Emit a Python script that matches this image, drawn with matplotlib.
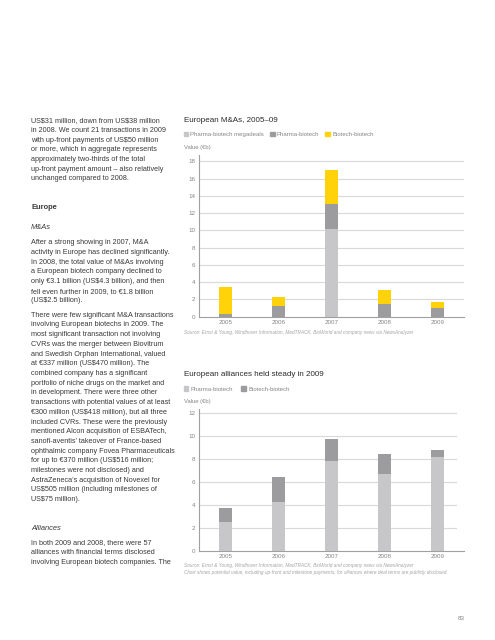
import matplotlib.pyplot as plt
from matplotlib.patches import Patch

plt.rcParams['font.family'] = ['Liberation Sans', 'DejaVu Sans']

# ---------------- data ----------------
years = ['2005', '2006', '2007', '2008', '2009']

# European M&As, 2005-09 (value, EUR bn)
ma_megadeals = [0, 0, 10.2, 0, 0]
ma_pharma = [0.3, 1.25, 2.8, 1.47, 1.05]
ma_biotech = [3.15, 1.08, 4.0, 1.6, 0.65]
ma_ticks = [0, 2, 4, 6, 8, 10, 12, 14, 16, 18]

# European alliances (value, EUR bn)
al_pharma = [2.52, 4.25, 7.8, 6.68, 8.15]
al_biotech = [1.21, 2.17, 1.91, 1.73, 0.61]
al_ticks = [0, 2, 4, 6, 8, 10, 12]

para1 = ["US$31 million, down from US$38 million",
         "in 2008. We count 21 transactions in 2009",
         "with up-front payments of US$50 million",
         "or more, which in aggregate represents",
         "approximately two-thirds of the total",
         "up-front payment amount \u2013 also relatively",
         "unchanged compared to 2008."]
para2 = ["After a strong showing in 2007, M&A",
         "activity in Europe has declined significantly.",
         "In 2008, the total value of M&As involving",
         "a European biotech company declined to",
         "only \u20ac3.1 billion (US$4.3 billion), and then",
         "fell even further in 2009, to \u20ac1.8 billion",
         "(US$2.5 billion)."]
para3 = ["There were few significant M&A transactions",
         "involving European biotechs in 2009. The",
         "most significant transaction not involving",
         "CVRs was the merger between Biovitrum",
         "and Swedish Orphan International, valued",
         "at \u20ac337 million (US$470 million). The",
         "combined company has a significant",
         "portfolio of niche drugs on the market and",
         "in development. There were three other",
         "transactions with potential values of at least",
         "\u20ac300 million (US$418 million), but all three",
         "included CVRs. These were the previously",
         "mentioned Alcon acquisition of ESBATech,",
         "sanofi-aventis\u2019 takeover of France-based",
         "ophthalmic company Fovea Pharmaceuticals",
         "for up to \u20ac370 million (US$516 million;",
         "milestones were not disclosed) and",
         "AstraZeneca\u2019s acquisition of Novexel for",
         "US$505 million (including milestones of",
         "US$75 million)."]
para4 = ["In both 2009 and 2008, there were 57",
         "alliances with financial terms disclosed",
         "involving European biotech companies. The"]

# ---------------- styles ----------------
LIGHT = '#c7c7c9'
MID = '#9c9b9d'
YELLOW = '#ffd20a'
TXT = '#3a3a3a'
GREY = '#858585'
SRC = '#a5a5a5'
W, H = 495, 640


def fx(x):
    return x / W


def fy(y):
    return 1 - y / H


fig = plt.figure(figsize=(4.95, 6.4), dpi=100)

# ---------------- left text column ----------------
pitch = 9.7


def put_para(lines, y0):
    for i, line in enumerate(lines):
        fig.text(fx(31), fy(y0 + i * pitch), line, fontsize=5.2, color=TXT,
                 va='center', ha='left', parse_math=False)


put_para(para1, 120.7)
fig.text(fx(31), fy(207.3), "Europe", fontsize=5.4, color=TXT, weight='bold', va='center')
fig.text(fx(31), fy(227.3), "M&As", fontsize=5.4, color=TXT, style='italic', va='center')
put_para(para2, 242.7)
put_para(para3, 315.3)
fig.text(fx(31), fy(528), "Alliances", fontsize=5.4, color=TXT, style='italic', va='center')
put_para(para4, 543)

fig.text(fx(461.7), fy(618.3), "83", fontsize=4.5, color=GREY, ha='center', va='center')


def style_axes(ax, ticks, xmax_frac):
    ax.set_xlim(-0.5, 4.5)
    ax.set_yticks(ticks)
    ax.set_xticks(range(len(years)))
    ax.set_xticklabels(years)
    ax.tick_params(length=0, labelsize=4.5, labelcolor=GREY, pad=2.5)
    for s in ['top', 'right']:
        ax.spines[s].set_visible(False)
    for s in ['left', 'bottom']:
        ax.spines[s].set_color('#a0a0a0')
        ax.spines[s].set_linewidth(0.8)
    for t in ticks[1:]:
        ax.axhline(t, xmax=xmax_frac, color='#d9d9d9', lw=0.8, zorder=0)
    ax.set_axisbelow(True)


# ---------------- chart 1: M&As ----------------
ax1 = fig.add_axes([fx(199), fy(316.7), fx(464 - 199), (316.7 - 155.3) / H])
x = range(len(years))
bw = 0.245
ax1.bar(x, ma_megadeals, bw, color=LIGHT, zorder=2)
bottom = [a + b for a, b in zip(ma_megadeals, ma_pharma)]
ax1.bar(x, ma_pharma, bw, bottom=ma_megadeals, color=MID, zorder=2)
ax1.bar(x, ma_biotech, bw, bottom=bottom, color=YELLOW, zorder=2)
ax1.set_ylim(0, 18.7)
style_axes(ax1, ma_ticks, 1.0)

fig.text(fx(184), fy(120.7), "European M&As, 2005\u201309", fontsize=5.8, color='#2a2a2a', va='center')
fig.text(fx(184), fy(147.7), "Value (\u20acb)", fontsize=4.2, color=GREY, va='center')
h1 = [Patch(color=LIGHT), Patch(color=MID), Patch(color=YELLOW)]
fig.legend(h1, ["Pharma-biotech megadeals", "Pharma-biotech", "Biotech-biotech"],
           loc='center left', bbox_to_anchor=(fx(183.5), fy(134.7)), ncol=3, frameon=False,
           fontsize=4.3, labelcolor=GREY, handlelength=0.75, handleheight=0.75,
           handletextpad=0.4, columnspacing=1.0, borderpad=0, borderaxespad=0)
fig.text(fx(184), fy(332.3),
         "Source: Ernst & Young, Windhover Information, MedTRACK, BioWorld and company news via NewsAnalyzer",
         fontsize=3.4, color=SRC, style='italic', va='center')

# ---------------- chart 2: alliances ----------------
ax2 = fig.add_axes([fx(199), fy(551), fx(464 - 199), (551 - 409.3) / H])
ax2.bar(x, al_pharma, bw, color=LIGHT, zorder=2)
ax2.bar(x, al_biotech, bw, bottom=al_pharma, color=MID, zorder=2)
ax2.set_ylim(0, 12.3)
style_axes(ax2, al_ticks, 0.97)

fig.text(fx(184), fy(375), "European alliances held steady in 2009", fontsize=5.8, color='#2a2a2a', va='center')
fig.text(fx(184), fy(401.3), "Value (\u20acb)", fontsize=4.2, color=GREY, va='center')
h2 = [Patch(color=LIGHT), Patch(color=MID)]
fig.legend(h2, ["Pharma-biotech", "Biotech-biotech"],
           loc='center left', bbox_to_anchor=(fx(183.5), fy(389)), ncol=2, frameon=False,
           fontsize=4.3, labelcolor=GREY, handlelength=0.75, handleheight=0.75,
           handletextpad=0.4, columnspacing=1.4, borderpad=0, borderaxespad=0)
fig.text(fx(184), fy(566),
         "Source: Ernst & Young, Windhover Information, MedTRACK, BioWorld and company news via NewsAnalyzer",
         fontsize=3.4, color=SRC, style='italic', va='center')
fig.text(fx(184), fy(572.5),
         "Chart shows potential value, including up-front and milestone payments, for alliances where deal terms are publicly disclosed.",
         fontsize=3.4, color=SRC, style='italic', va='center')

fig.savefig('out.png', dpi=100)
